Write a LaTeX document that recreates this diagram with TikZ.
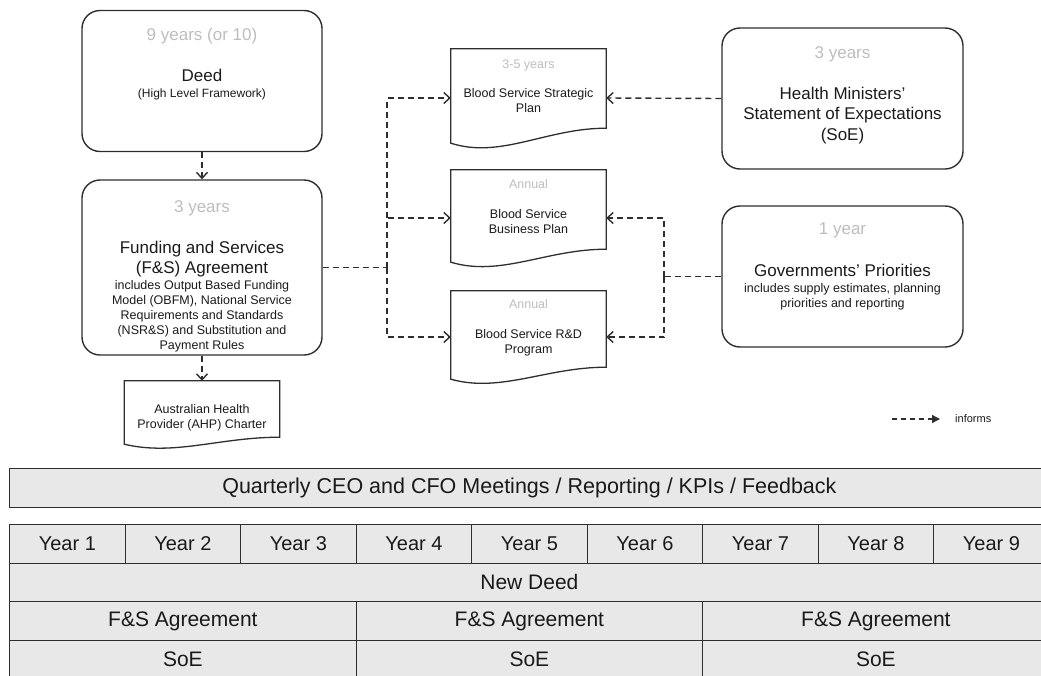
\documentclass[tikz,border=0pt]{standalone}
\usepackage{fontspec}
\setmainfont{Liberation Sans}
\usetikzlibrary{arrows.meta,positioning}

\definecolor{linegray}{HTML}{2E2E2E}
\definecolor{yeargray}{HTML}{BDBDBD}
\definecolor{textblack}{HTML}{1A1A1A}
\definecolor{cellfill}{HTML}{E8E8E8}

\tikzset{
    bigbox/.style={draw=linegray, line width=1.4pt, rounded corners=18pt,
        minimum width=240pt, minimum height=141pt},
    docbox/.style={minimum width=155pt, inner sep=0pt},
    docline/.style={draw=linegray, line width=1.3pt},
    yeartext/.style={text=yeargray, anchor=base, inner sep=0pt,
        font=\fontsize{17}{20}\selectfont},
    titletext/.style={text=textblack, anchor=base, inner sep=0pt, align=center,
        font=\fontsize{17}{20.5}\selectfont},
    smalltext/.style={text=textblack, anchor=base, inner sep=0pt, align=center,
        font=\fontsize{12.5}{14.8}\selectfont},
    doctext/.style={text=textblack, anchor=base, inner sep=0pt, align=center,
        font=\fontsize{12.5}{15}\selectfont},
    docyear/.style={doctext, text=yeargray},
    informs/.style={draw=linegray, line width=1.4pt, dash pattern=on 6pt off 4pt,
        -{Straight Barb[length=6pt,width=11pt]}},
    tcell/.style={draw=linegray, line width=1.3pt, fill=cellfill, anchor=north west,
        inner sep=0pt, minimum height=38.5pt, text=textblack,
        font=\fontsize{21}{24}\selectfont},
}

\begin{document}
\begin{tikzpicture}[x=1pt, y=-1pt]
    \useasboundingbox (0,0) rectangle (1041,675);
    \clip (0,0) rectangle (1041,675);

    % rounded boxes
    \node[bigbox] (deed) at (202,81) {};
    \node[bigbox, minimum height=175pt] (fs) at (202,267.5) {};
    \node[bigbox, minimum width=241pt] (soe) at (842.5,98.5) {};
    \node[bigbox, minimum width=241pt] (gov) at (842.5,276.5) {};

    % multi-line texts sit on the baseline of their last line
    \node[yeartext] (deedyr) at (202,40) {9 years (or 10)};
    \node[titletext] (deedttl) at (202,81) {Deed};
    \node[smalltext, font=\fontsize{12}{14}\selectfont] (deedsub) at (202,97) {(High Level Framework)};

    \node[yeartext] (fsyr) at (202,212) {3 years};
    \node[titletext, font=\fontsize{17}{20}\selectfont] (fsttl) at (202,273) {Funding and Services\\(F\&S) Agreement};
    \node[smalltext] (fssub) at (202,349) {includes Output Based Funding\\Model (OBFM), National Service\\Requirements and Standards\\(NSR\&S) and Substitution and\\Payment Rules};

    \node[yeartext] (soeyr) at (842.5,58) {3 years};
    \node[titletext] (soettl) at (842.5,140) {Health Ministers'\\Statement of Expectations\\(SoE)};

    \node[yeartext] (govyr) at (842.5,234) {1 year};
    \node[titletext] (govttl) at (842.5,276) {Governments' Priorities};
    \node[smalltext] (govsub) at (842.5,307) {includes supply estimates, planning\\priorities and reporting};

    % documents
    \node[docbox, minimum height=98pt] (sp) at (528.5,98) {};
    \node[docbox, minimum height=96pt] (bp) at (528.5,218) {};
    \node[docbox, minimum height=92pt] (rd) at (528.5,337) {};
    \node[docbox, minimum height=67pt] (ahp) at (202,414.5) {};
    \foreach \d/\r/\c in {sp/19/12, bp/17/11, rd/16/10, ahp/11/8}
        \draw[docline] (\d.north west) -- (\d.north east) -- ([yshift=\r pt]\d.south east)
            .. controls ([shift={(-60pt,\r pt)}]\d.south east) and ([shift={(50pt,-\c pt)}]\d.south west)
            .. ([yshift=4pt]\d.south west) -- cycle;

    \node[docyear] (spyr) at (528.5,68) {3-5 years};
    \node[doctext] (spttl) at (528.5,112) {Blood Service Strategic\\Plan};
    \node[docyear] (bpyr) at (528.5,188) {Annual};
    \node[doctext] (bpttl) at (528.5,233) {Blood Service\\Business Plan};
    \node[docyear] (rdyr) at (528.5,308) {Annual};
    \node[doctext] (rdttl) at (528.5,353) {Blood Service R\&D\\Program};
    \node[doctext] (ahpttl) at (202,428) {Australian Health\\Provider (AHP) Charter};

    % connectors
    \draw[informs] (deed) -- (fs);
    \draw[informs] (fs) -- (ahp);
    \coordinate (lbus) at (387,267.5);
    \draw[informs, -] (fs.east) -- (lbus);
    \foreach \d in {sp,bp,rd}
        \draw[informs] (lbus) |- (\d.west);
    \draw[informs] (soe.west) -- (sp.east);
    \coordinate (rbus) at (664,276.5);
    \draw[informs, -] (gov.west) -- (rbus);
    \foreach \d in {bp,rd}
        \draw[informs] (rbus) |- (\d.east);

    % legend
    \coordinate (legstart) at (892,419);
    \coordinate (legtip) at (940,419);
    \draw[informs, dash pattern=on 5pt off 4pt, -{Triangle[length=8pt,width=8pt]}] (legstart) -- (legtip);
    \node[anchor=west, inner sep=0pt, text=textblack, font=\fontsize{11}{13}\selectfont] (legtext) at (955,419) {informs};

    % timeline table
    \node[tcell, minimum width=1039.5pt, minimum height=39pt, font=\fontsize{21.5}{24}\selectfont] (qtr) at (9,468) {Quarterly CEO and CFO Meetings / Reporting / KPIs / Feedback};
    \foreach \i in {1,...,9}
        \node[tcell, minimum width=115.5pt, font=\fontsize{20}{24}\selectfont] (yr\i) at ({9+(\i-1)*115.5},524) {Year \i};
    \node[tcell, minimum width=1039.5pt] (newdeed) at (9,562.5) {New Deed};
    \foreach \i in {1,2,3} {
        \node[tcell, minimum width=346.5pt] (fsa\i) at ({9+(\i-1)*346.5},601) {F\&S Agreement};
        \node[tcell, minimum width=346.5pt] (soe\i) at ({9+(\i-1)*346.5},639.5) {SoE};
    }
\end{tikzpicture}
\end{document}
